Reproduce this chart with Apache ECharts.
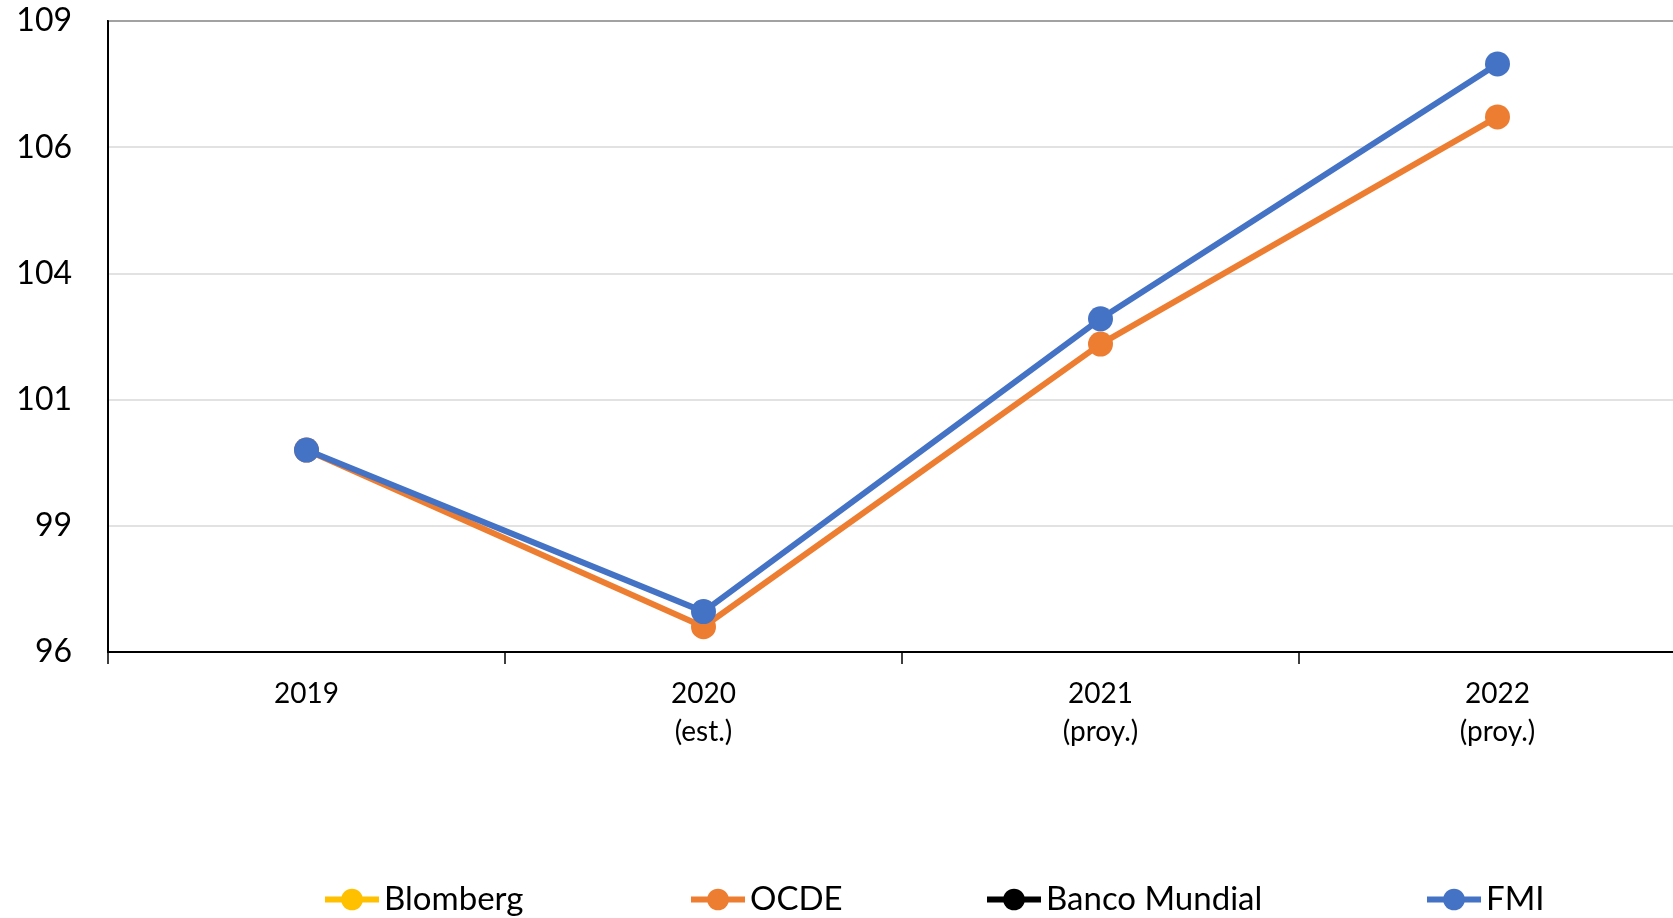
<!DOCTYPE html>
<html>
<head>
<meta charset="utf-8">
<script src="https://cdn.jsdelivr.net/npm/echarts@6/dist/echarts.min.js"></script>
<style>
html,body{margin:0;padding:0;background:#fff;overflow:hidden;}
#chart{width:1700px;height:918px;}
</style>
</head>
<body>
<div id="chart"></div>
<script>
const categories = ['2019', '2020\n(est.)', '2021\n(proy.)', '2022\n(proy.)'];
const blomberg = [null, null, null, null];
const ocde = [100.0, 96.5, 102.1, 106.6];
const bancoMundial = [null, null, null, null];
const fmi = [100.0, 96.8, 102.6, 107.65];
const seriesNames = ['Blomberg', 'OCDE', 'Banco Mundial', 'FMI'];
const seriesColors = ['#FFC000', '#ED7D31', '#000000', '#4472C4'];
const yMin = 96, yMax = 108.5, yStep = 2.5;

const FONT = 'Lato';
const chart = echarts.init(document.getElementById('chart'), null, {renderer: 'canvas'});
const dataSets = [blomberg, ocde, bancoMundial, fmi];
const legendLefts = [317, 683, 979, 1419];

chart.setOption({
  animation: false,
  backgroundColor: '#fff',
  grid: {
    left: 108, top: 21, width: 1588, height: 631,
    show: true, borderColor: '#000', borderWidth: 2, backgroundColor: 'transparent'
  },
  legend: seriesNames.map((n, i) => ({
    left: legendLefts[i], top: 878,
    itemWidth: 54, itemHeight: 27, itemGap: 0,
    lineStyle: {width: 6},
    textStyle: {fontFamily: FONT, fontSize: 33, color: '#000'},
    data: [n]
  })),
  xAxis: {
    type: 'category',
    data: categories,
    boundaryGap: true,
    axisLine: {lineStyle: {color: '#000', width: 2}},
    axisTick: {show: true, length: 12, lineStyle: {color: '#000', width: 1.5}},
    axisLabel: {fontFamily: FONT, fontSize: 28, color: '#000', margin: 23, lineHeight: 38}
  },
  yAxis: {
    type: 'value',
    min: yMin, max: yMax, interval: yStep,
    axisLine: {show: true, lineStyle: {color: '#000', width: 2}},
    axisTick: {show: false},
    splitLine: {lineStyle: {color: '#d9d9d9', width: 1.5}},
    axisLabel: {fontFamily: FONT, fontSize: 32, color: '#000', margin: 36,
      formatter: v => String(Math.round(v))}
  },
  series: seriesNames.map((n, i) => ({
    name: n,
    type: 'line',
    data: dataSets[i],
    color: seriesColors[i],
    symbol: 'circle',
    symbolSize: 25,
    lineStyle: {width: 6, color: seriesColors[i]},
    itemStyle: {color: seriesColors[i]},
    z: 2 + i
  }))
});
</script>
</body>
</html>
